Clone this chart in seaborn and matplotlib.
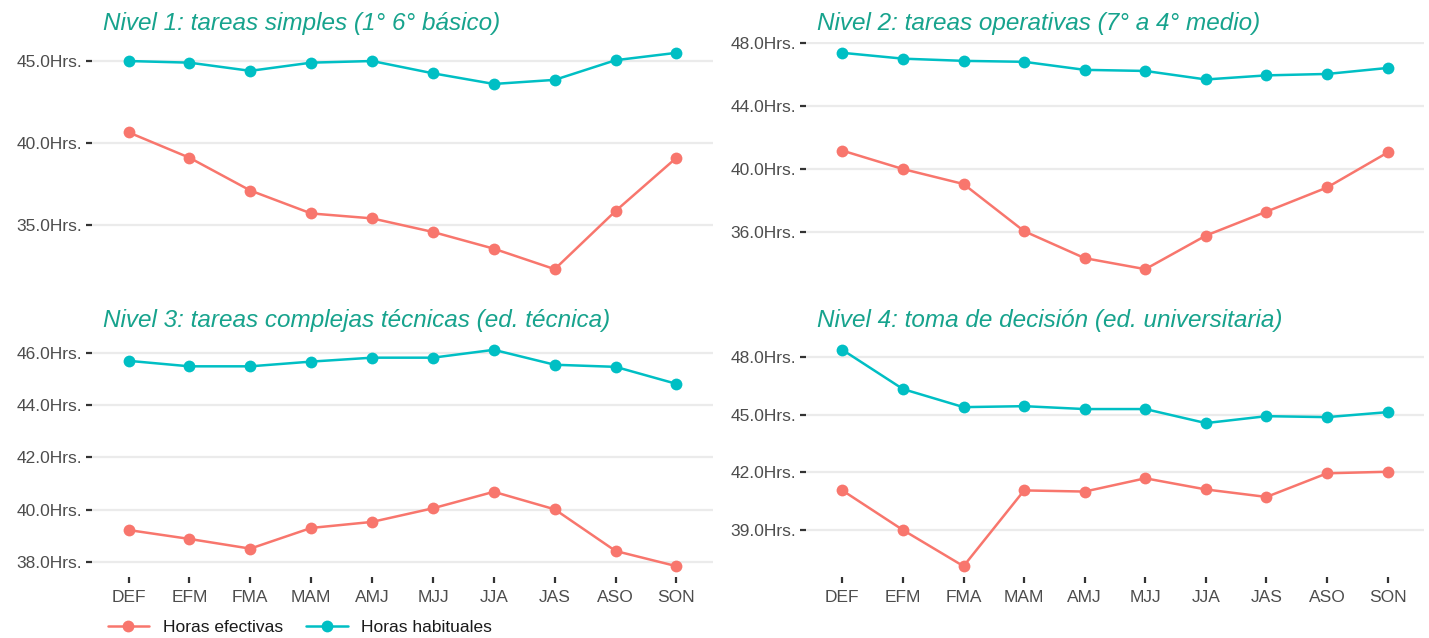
import numpy as np
import pandas as pd
import matplotlib
matplotlib.use("Agg")
import matplotlib.pyplot as plt
import seaborn as sns
from matplotlib.ticker import FuncFormatter, FixedLocator

# trimestres moviles
trimestres = ["DEF", "EFM", "FMA", "MAM", "AMJ", "MJJ", "JJA", "JAS", "ASO", "SON"]

titulos = [
    "Nivel 1: tareas simples (1° 6° básico)",
    "Nivel 2: tareas operativas (7° a 4° medio)",
    "Nivel 3: tareas complejas técnicas (ed. técnica)",
    "Nivel 4: toma de decisión (ed. universitaria)",
]

# horas efectivas por nivel
efectivas_n1 = [40.65, 39.1, 37.1, 35.7, 35.4, 34.57, 33.55, 32.3, 35.85, 39.1]
efectivas_n2 = [41.17, 40.0, 39.05, 36.06, 34.35, 33.65, 35.78, 37.3, 38.83, 41.05]
efectivas_n3 = [39.23, 38.89, 38.52, 39.31, 39.54, 40.06, 40.69, 40.02, 38.43, 37.85]
efectivas_n4 = [41.06, 39.0, 37.12, 41.06, 41.0, 41.69, 41.11, 40.72, 41.95, 42.03]

# horas habituales por nivel
habituales_n1 = [45.0, 44.9, 44.4, 44.9, 45.0, 44.25, 43.6, 43.85, 45.05, 45.5]
habituales_n2 = [47.37, 47.0, 46.86, 46.8, 46.29, 46.22, 45.68, 45.94, 46.03, 46.41]
habituales_n3 = [45.69, 45.48, 45.48, 45.66, 45.81, 45.81, 46.11, 45.54, 45.46, 44.81]
habituales_n4 = [48.37, 46.33, 45.39, 45.44, 45.29, 45.29, 44.56, 44.92, 44.87, 45.13]

# cortes del eje y en cada panel
y_breaks = [
    [35, 40, 45],
    [36, 40, 44, 48],
    [38, 40, 42, 44, 46],
    [39, 42, 45, 48],
]

efectivas = [efectivas_n1, efectivas_n2, efectivas_n3, efectivas_n4]
habituales = [habituales_n1, habituales_n2, habituales_n3, habituales_n4]

colores = {"Horas efectivas": "#F8766D", "Horas habituales": "#00BFC4"}
titulo_color = "#17A38D"

sns.set_theme(style="white")
plt.rcParams["font.family"] = ["Liberation Sans", "DejaVu Sans"]

W, H = 1429, 638
fig = plt.figure(figsize=(W / 100, H / 100), dpi=100)

# posiciones de los paneles en pixeles (izq, arriba, der, abajo)
cajas = [
    (92, 42, 713, 280),
    (806, 42, 1424, 280),
    (92, 339, 713, 577),
    (806, 339, 1424, 577),
]

for i, (x0, y0, x1, y1) in enumerate(cajas):
    ax = fig.add_axes([x0 / W, 1 - y1 / H, (x1 - x0) / W, (y1 - y0) / H])
    df = pd.DataFrame({
        "trimestre": trimestres * 2,
        "horas": efectivas[i] + habituales[i],
        "serie": ["Horas efectivas"] * 10 + ["Horas habituales"] * 10,
    })
    df["pos"] = np.tile(np.arange(len(trimestres)), 2)
    sns.lineplot(data=df, x="pos", y="horas", hue="serie", palette=colores,
                 marker="o", markersize=8.5, markeredgewidth=0, linewidth=1.8,
                 legend=False, ax=ax)

    ax.set_xlim(-0.6, len(trimestres) - 0.4)
    ax.margins(y=0.05)
    ax.yaxis.set_major_locator(FixedLocator(y_breaks[i]))
    ax.yaxis.set_major_formatter(FuncFormatter(lambda v, p: f"{v:.1f}Hrs."))
    ax.grid(axis="y", color="#EBEBEB", linewidth=1.6)
    ax.grid(axis="x", visible=False)
    for s in ax.spines.values():
        s.set_visible(False)
    ax.set_xlabel("")
    ax.set_ylabel("")
    ax.tick_params(axis="y", length=4, width=1.6, color="#333333", pad=3,
                   labelsize=12.5, labelcolor="#4D4D4D", left=True)
    ax.set_xticks(np.arange(len(trimestres)))
    if i >= 2:
        ax.set_xticklabels(trimestres)
        ax.tick_params(axis="x", length=4, width=1.6, color="#333333", pad=5,
                       labelsize=12.5, labelcolor="#4D4D4D", bottom=True)
    else:
        ax.set_xticklabels([])
        ax.tick_params(axis="x", length=0)

    ax.text(0.018, 1.03, titulos[i], transform=ax.transAxes, ha="left", va="bottom",
            fontsize=17.5, style="italic", color=titulo_color)

# leyenda comun
handles = [plt.Line2D([], [], color=c, marker="o", markersize=8.5, linewidth=1.8,
                      markeredgewidth=0) for c in colores.values()]
fig.legend(handles, list(colores.keys()), loc="lower left", bbox_to_anchor=(92 / W, -0.02),
           ncol=2, frameon=False, fontsize=12.5, handlelength=2.4, columnspacing=1.3,
           handletextpad=0.8, labelcolor="#1A1A1A")

fig.savefig("out.png", dpi=100)
